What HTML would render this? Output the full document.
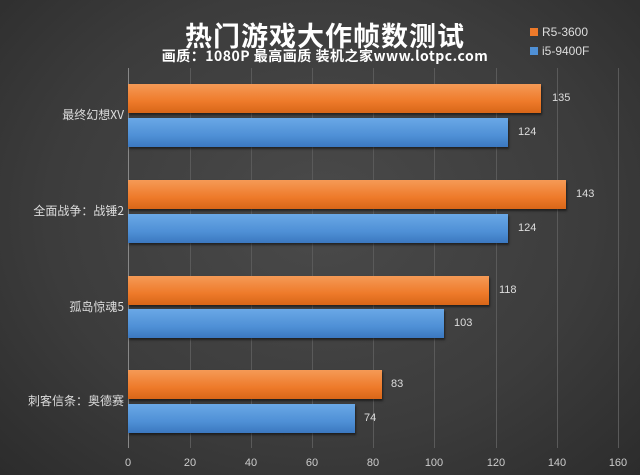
<!DOCTYPE html>
<html><head><meta charset="utf-8"><style>
body{margin:0;width:640px;height:475px;overflow:hidden;background:radial-gradient(ellipse at 50% 45%,#4a4a4a 0%,#3c3c3c 60%,#2c2c2c 100%);font-family:"Liberation Sans","Noto Sans CJK SC",sans-serif;position:relative}
.t{position:absolute;left:180px;top:15px;width:290px;text-align:center;color:#fff;font-size:27px;font-weight:bold;font-family:"Noto Sans CJK SC",sans-serif;letter-spacing:1px}
.s{position:absolute;left:140px;top:46px;width:370px;text-align:center;color:#fff;font-size:14px;font-weight:bold;font-family:"Noto Sans CJK SC",sans-serif;letter-spacing:0.5px}
.lg{position:absolute;left:530px;color:#ddd;font-size:12px}
.lg i{display:inline-block;width:8px;height:8px;margin-right:4px}
.g{position:absolute;top:68px;height:380px;width:1px;background:#5a5a5a}
.b{position:absolute;height:29px;box-shadow:1px 2px 2px rgba(0,0,0,.5)}
.o{background:linear-gradient(#f59a56,#ee7a2a 60%,#d86618)}
.u{background:linear-gradient(#6aa8e6,#4f90d6 60%,#3b78c0)}
.v{position:absolute;color:#ddd;font-size:11px}
.c{position:absolute;right:516px;color:#ddd;font-size:12px;font-family:"Noto Sans CJK SC",sans-serif}
.x{position:absolute;top:457px;color:#ccc;font-size:11px;width:30px;text-align:center}
</style></head><body>
<div class="t">热门游戏大作帧数测试</div>
<div class="s">画质：1080P 最高画质 装机之家www.lotpc.com</div>
<div class="lg" style="top:25px"><i style="background:#ee7a2a"></i>R5-3600</div>
<div class="lg" style="top:44px"><i style="background:#4f90d6"></i>i5-9400F</div>
<div class="g" style="left:128px;background:#888"></div>
<div class="g" style="left:190px"></div><div class="g" style="left:251px"></div><div class="g" style="left:312px"></div><div class="g" style="left:373px"></div><div class="g" style="left:434px"></div><div class="g" style="left:496px"></div><div class="g" style="left:557px"></div><div class="g" style="left:618px"></div>
<div class="b o" style="left:128px;top:84px;width:413px"></div><div class="v" style="left:552px;top:92px">135</div>
<div class="b u" style="left:128px;top:118px;width:380px"></div><div class="v" style="left:518px;top:126px">124</div>
<div class="b o" style="left:128px;top:180px;width:438px"></div><div class="v" style="left:576px;top:188px">143</div>
<div class="b u" style="left:128px;top:214px;width:380px"></div><div class="v" style="left:518px;top:222px">124</div>
<div class="b o" style="left:128px;top:276px;width:361px"></div><div class="v" style="left:499px;top:284px">118</div>
<div class="b u" style="left:128px;top:309px;width:316px"></div><div class="v" style="left:454px;top:317px">103</div>
<div class="b o" style="left:128px;top:370px;width:254px"></div><div class="v" style="left:391px;top:378px">83</div>
<div class="b u" style="left:128px;top:404px;width:227px"></div><div class="v" style="left:364px;top:412px">74</div>
<div class="c" style="top:106px">最终幻想XV</div>
<div class="c" style="top:202px">全面战争：战锤2</div>
<div class="c" style="top:298px">孤岛惊魂5</div>
<div class="c" style="top:392px">刺客信条：奥德赛</div>
<div class="x" style="left:113px">0</div><div class="x" style="left:175px">20</div><div class="x" style="left:236px">40</div><div class="x" style="left:297px">60</div><div class="x" style="left:358px">80</div><div class="x" style="left:419px">100</div><div class="x" style="left:481px">120</div><div class="x" style="left:542px">140</div><div class="x" style="left:603px">160</div>
</body></html>
